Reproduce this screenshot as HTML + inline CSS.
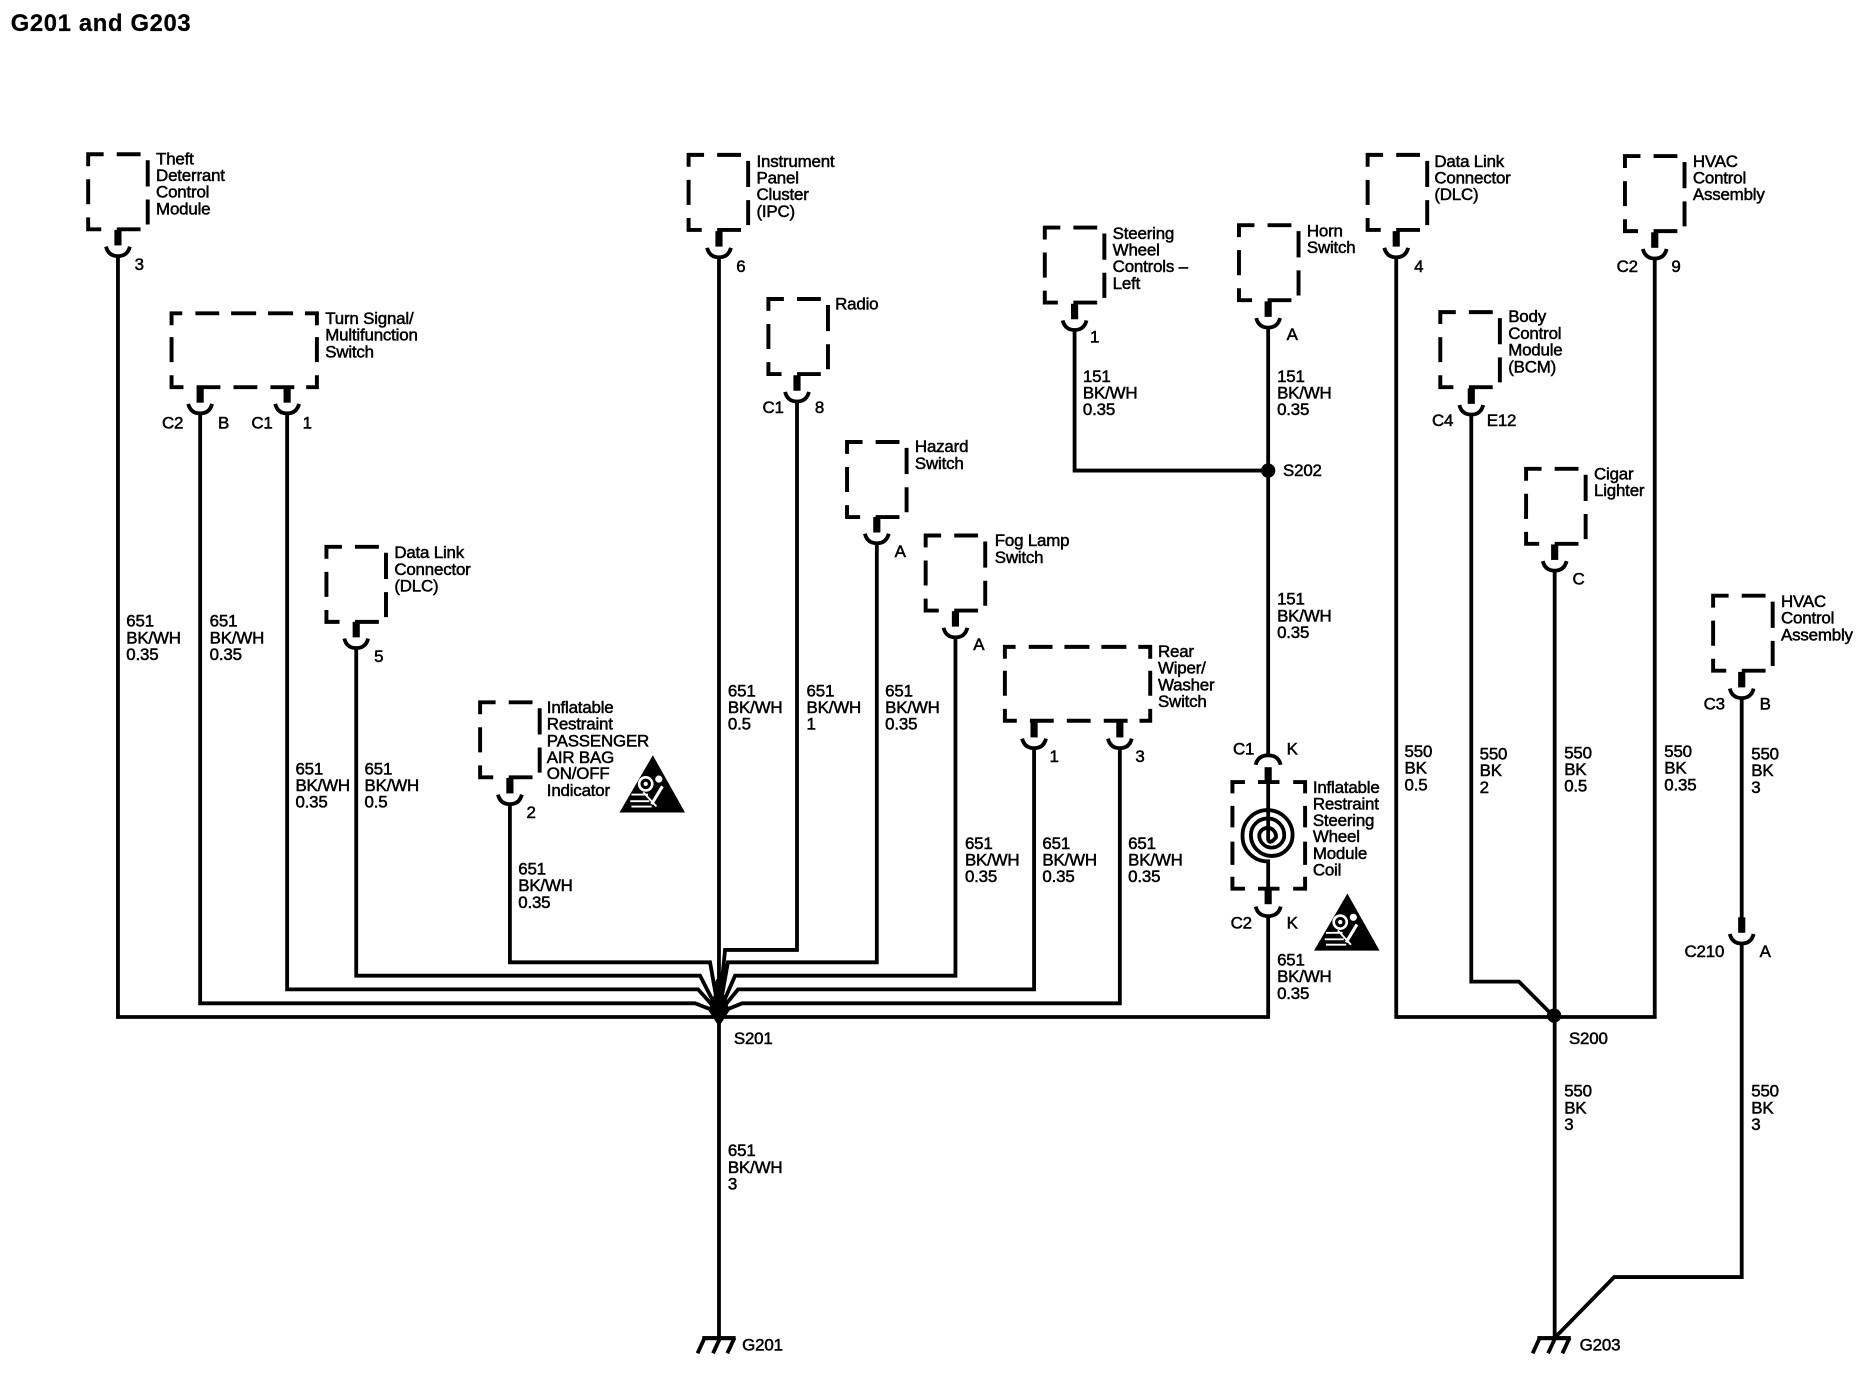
<!DOCTYPE html>
<html><head><meta charset="utf-8"><title>G201 and G203</title>
<style>
html,body{margin:0;padding:0;background:#fff;width:1868px;height:1392px;overflow:hidden}
svg{display:block}
text{font-family:"Liberation Sans",sans-serif;font-size:14.2px;fill:#000;stroke:#000;stroke-width:.42px;letter-spacing:-.16px}
.w{fill:none;stroke:#000;stroke-width:3.2}
.b{fill:none;stroke:#000;stroke-width:3.3}
</style></head><body>
<svg xmlns="http://www.w3.org/2000/svg" width="1868" height="1392" viewBox="0 0 1568 1168.46">
<defs>
<path id="s" class="b" d="M0,10V0H13M24,0H44M50,5V27M50,38V59M44,63H24M11,63H0V53M0,42V21"/>
<path id="l" class="b" d="M0,10V0H9M20,0H40M50,0H71M81,0H102M112,0H122V10M122,20V41M122,52V62H113M103,62H83M72,62H52M41,62H21M10,62H0V52M0,41V20"/>
<g id="c"><rect x="-3" y="0" width="6" height="13"/><path class="w" d="M-10,14Q-8,22 0,22Q8,22 10,14"/></g>
<g id="g"><rect x="-14" y="-1.5" width="28" height="3.5"/><path class="w" stroke-width="2.4" d="M-12,0L-18,13M1,0L-5,13M13,0L7,13"/></g>
<g id="t"><path d="M28,0L55,48H0Z"/><g fill="none" stroke="#fff"><circle cx="22" cy="24" r="5.500" stroke-width="2.200"/><path stroke-width="2.600" d="M36,26L27,41"/><path stroke-width="1.600" d="M20,31L31,43M10,33H24M9,38.500H25M10,43H27"/></g><circle cx="22" cy="24" r="1.800" fill="#fff"/><circle cx="33" cy="20" r="3" fill="#fff"/></g>
</defs>

<text x="9" y="26" style="font-size:20px;font-weight:bold;letter-spacing:.55px;stroke-width:.2px">G201 and G203</text>

<!-- boxes -->
<use href="#s" x="74" y="129.5"/><use href="#s" x="578" y="130"/><use href="#s" x="274" y="459"/>
<use href="#s" x="403" y="589.5"/><use href="#s" x="645" y="251"/><use href="#s" x="711" y="371"/>
<use href="#s" x="777" y="449.5"/><use href="#s" x="877" y="191"/><use href="#s" x="1040" y="189"/>
<use href="#s" x="1148" y="130"/><use href="#s" x="1364" y="131"/><use href="#s" x="1209" y="262"/>
<use href="#s" x="1281" y="393.500"/><use href="#s" x="1438" y="500"/>
<use href="#l" x="144" y="263"/><use href="#l" x="843.500" y="543"/>

<!-- connectors -->
<use href="#c" x="99" y="193"/><use href="#c" x="603.500" y="194"/><use href="#c" x="168" y="325"/><use href="#c" x="241" y="325"/>
<use href="#c" x="299" y="522"/><use href="#c" x="428" y="653"/><use href="#c" x="669" y="315"/><use href="#c" x="736" y="434"/>
<use href="#c" x="802" y="513"/><use href="#c" x="868" y="606"/><use href="#c" x="940" y="606"/>
<use href="#c" x="902" y="255"/><use href="#c" x="1064.500" y="253"/><use href="#c" x="1172" y="194"/>
<use href="#c" x="1389" y="195"/><use href="#c" x="1235" y="326"/><use href="#c" x="1305" y="457"/><use href="#c" x="1462" y="564"/>
<use href="#c" x="1462" y="770"/>

<!-- wires -->
<path class="w" d="M99,215V853.700H1064.500V768M603.500,215V1123M168,347V842.200H583.500L603.500,850M241,347V830.500H586L603.500,850M299,544V819H587.600L603.500,850M428,675V807.800H596L603.500,850
M669,337V797.400H608.600L603.500,850M736,456V807.800H611L603.500,850M802,535V819H617L603.500,850M868,628V830.500H619.500L603.500,850M940,628V842.200H623L603.500,850
M902,277V395H1064.500M1064.500,275V634M1172,216V853.700H1389V217M1235,348V824H1275L1304,853M1305,479V1123M1462,586V771M1462,791V1072H1355L1305,1123"/>
<path d="M601,822H606L608,836L612.500,848L606,858L604.500,860H602.500L601,858L594.500,848L599,836Z"/>
<circle cx="1064.500" cy="395" r="6"/><circle cx="1304.500" cy="852.500" r="6"/>

<!-- coil -->
<path class="b" d="M1034.500,666V656.500H1045M1056,656.500H1074M1085.500,656.500H1095.500V666M1095.500,676.500V694.500M1095.500,706.500V726M1095.500,736V746H1085.500M1074,746H1056M1045,746H1034.500V736M1034.500,726V706.500M1034.500,694.500V676.500"/>
<path class="w" d="M1054,642Q1056,634 1064.500,634Q1073,634 1075,642M1054,761Q1056,769 1064.500,769Q1073,769 1075,761"/>
<rect x="1061.500" y="644" width="6" height="14"/><rect x="1061.500" y="745" width="6" height="14"/>
<path class="w" d="M1064.500,656V705Q1066,709 1071,703A7,7 0 0 0 1057,701A10.500,10.500 0 0 0 1078,701A14,14 0 0 0 1050,701A17.500,17.500 0 0 0 1085,701A21,21 0 0 0 1043,701A21,21 0 0 0 1064.500,723V746"/>
<use href="#t" x="520" y="634"/><use href="#t" x="1103" y="750"/>
<use href="#g" x="603.500" y="1123"/><use href="#g" x="1304.500" y="1123"/>

<g transform="translate(0,-.5)">
<!-- component labels -->
<text x="131" y="138.500">Theft<tspan x="131" dy="14">Deterrant</tspan><tspan x="131" dy="14">Control</tspan><tspan x="131" dy="14">Module</tspan></text>
<text x="635" y="140.500">Instrument<tspan x="635" dy="14">Panel</tspan><tspan x="635" dy="14">Cluster</tspan><tspan x="635" dy="14">(IPC)</tspan></text>
<text x="273" y="272.500">Turn Signal/<tspan x="273" dy="14">Multifunction</tspan><tspan x="273" dy="14">Switch</tspan></text>
<text x="701" y="260.500">Radio</text>
<text x="934" y="201">Steering<tspan x="934" dy="14">Wheel</tspan><tspan x="934" dy="14">Controls –</tspan><tspan x="934" dy="14">Left</tspan></text>
<text x="1097" y="199">Horn<tspan x="1097" dy="14">Switch</tspan></text>
<text x="1204" y="140.500">Data Link<tspan x="1204" dy="14">Connector</tspan><tspan x="1204" dy="14">(DLC)</tspan></text>
<text x="1421" y="140.500">HVAC<tspan x="1421" dy="14">Control</tspan><tspan x="1421" dy="14">Assembly</tspan></text>
<text x="1266" y="271">Body<tspan x="1266" dy="14">Control</tspan><tspan x="1266" dy="14">Module</tspan><tspan x="1266" dy="14">(BCM)</tspan></text>
<text x="1338" y="403">Cigar<tspan x="1338" dy="14">Lighter</tspan></text>
<text x="331" y="469">Data Link<tspan x="331" dy="14">Connector</tspan><tspan x="331" dy="14">(DLC)</tspan></text>
<text x="768" y="380">Hazard<tspan x="768" dy="14">Switch</tspan></text>
<text x="835" y="459">Fog Lamp<tspan x="835" dy="14">Switch</tspan></text>
<text x="972" y="552">Rear<tspan x="972" dy="14">Wiper/</tspan><tspan x="972" dy="14">Washer</tspan><tspan x="972" dy="14">Switch</tspan></text>
<text x="1495" y="510">HVAC<tspan x="1495" dy="14">Control</tspan><tspan x="1495" dy="14">Assembly</tspan></text>
<text x="459" y="599">Inflatable<tspan x="459" dy="14">Restraint</tspan><tspan x="459" dy="14">PASSENGER</tspan><tspan x="459" dy="14">AIR BAG</tspan><tspan x="459" dy="13.500">ON/OFF</tspan><tspan x="459" dy="14">Indicator</tspan></text>
<text x="1102" y="666">Inflatable<tspan x="1102" dy="14">Restraint</tspan><tspan x="1102" dy="14">Steering</tspan><tspan x="1102" dy="13.500">Wheel</tspan><tspan x="1102" dy="14">Module</tspan><tspan x="1102" dy="14">Coil</tspan></text>

<!-- wire labels -->
<text x="106" y="526.500">651<tspan x="106" dy="14">BK/WH</tspan><tspan x="106" dy="14">0.35</tspan></text>
<text x="176" y="526.500">651<tspan x="176" dy="14">BK/WH</tspan><tspan x="176" dy="14">0.35</tspan></text>
<text x="248" y="650.500">651<tspan x="248" dy="14">BK/WH</tspan><tspan x="248" dy="14">0.35</tspan></text>
<text x="306" y="650.500">651<tspan x="306" dy="14">BK/WH</tspan><tspan x="306" dy="14">0.5</tspan></text>
<text x="435" y="734.500">651<tspan x="435" dy="14">BK/WH</tspan><tspan x="435" dy="14">0.35</tspan></text>
<text x="611" y="585">651<tspan x="611" dy="14">BK/WH</tspan><tspan x="611" dy="14">0.5</tspan></text>
<text x="677" y="585">651<tspan x="677" dy="14">BK/WH</tspan><tspan x="677" dy="14">1</tspan></text>
<text x="743" y="585">651<tspan x="743" dy="14">BK/WH</tspan><tspan x="743" dy="14">0.35</tspan></text>
<text x="810" y="713">651<tspan x="810" dy="14">BK/WH</tspan><tspan x="810" dy="14">0.35</tspan></text>
<text x="875" y="713">651<tspan x="875" dy="14">BK/WH</tspan><tspan x="875" dy="14">0.35</tspan></text>
<text x="947" y="713">651<tspan x="947" dy="14">BK/WH</tspan><tspan x="947" dy="14">0.35</tspan></text>
<text x="909" y="321">151<tspan x="909" dy="14">BK/WH</tspan><tspan x="909" dy="14">0.35</tspan></text>
<text x="1072" y="321">151<tspan x="1072" dy="14">BK/WH</tspan><tspan x="1072" dy="14">0.35</tspan></text>
<text x="1072" y="508">151<tspan x="1072" dy="14">BK/WH</tspan><tspan x="1072" dy="14">0.35</tspan></text>
<text x="1072" y="811">651<tspan x="1072" dy="14">BK/WH</tspan><tspan x="1072" dy="14">0.35</tspan></text>
<text x="1179" y="636">550<tspan x="1179" dy="14">BK</tspan><tspan x="1179" dy="14">0.5</tspan></text>
<text x="1242" y="638">550<tspan x="1242" dy="14">BK</tspan><tspan x="1242" dy="14">2</tspan></text>
<text x="1313" y="637">550<tspan x="1313" dy="14">BK</tspan><tspan x="1313" dy="14">0.5</tspan></text>
<text x="1397" y="636">550<tspan x="1397" dy="14">BK</tspan><tspan x="1397" dy="14">0.35</tspan></text>
<text x="1470" y="638">550<tspan x="1470" dy="14">BK</tspan><tspan x="1470" dy="14">3</tspan></text>
<text x="1313" y="921">550<tspan x="1313" dy="14">BK</tspan><tspan x="1313" dy="14">3</tspan></text>
<text x="1470" y="921">550<tspan x="1470" dy="14">BK</tspan><tspan x="1470" dy="14">3</tspan></text>
<text x="611" y="971">651<tspan x="611" dy="14">BK/WH</tspan><tspan x="611" dy="14">3</tspan></text>

<!-- pin and splice labels -->
<text x="113" y="227">3</text><text x="618" y="229">6</text>
<text x="136" y="360">C2</text><text x="183" y="360">B</text><text x="211" y="360">C1</text><text x="254" y="360">1</text>
<text x="314" y="556">5</text><text x="442" y="687">2</text>
<text x="640" y="347">C1</text><text x="684" y="347">8</text>
<text x="751" y="468">A</text><text x="817" y="546">A</text>
<text x="881" y="640">1</text><text x="953" y="640">3</text>
<text x="915" y="288">1</text><text x="1080" y="286">A</text>
<text x="1187" y="229">4</text><text x="1357" y="229">C2</text><text x="1403" y="229">9</text>
<text x="1202" y="358">C4</text><text x="1248" y="358">E12</text>
<text x="1320" y="491">C</text><text x="1430" y="596">C3</text><text x="1477" y="596">B</text>
<text x="1035" y="634">C1</text><text x="1080" y="634">K</text><text x="1033" y="780">C2</text><text x="1080" y="780">K</text>
<text x="1414" y="804">C210</text><text x="1477" y="804">A</text>
<text x="1077" y="400">S202</text><text x="616" y="877">S201</text><text x="1317" y="877">S200</text>
<text x="623" y="1134">G201</text><text x="1326" y="1134">G203</text>
</g>
</svg>
</body></html>
